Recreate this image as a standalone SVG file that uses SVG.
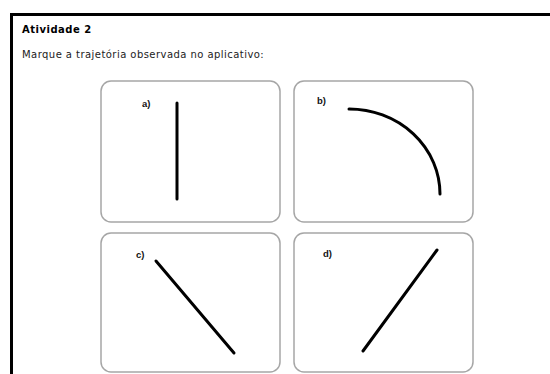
<svg xmlns="http://www.w3.org/2000/svg" width="550" height="374" viewBox="0 0 550 374">
<style>
.frame{fill:none;stroke:#000;stroke-width:3}
.card{fill:#fff;stroke:#a6a6a6;stroke-width:1.5}
.path{fill:none;stroke:#000;stroke-width:3;stroke-linecap:round}
.title{font-family:"DejaVu Sans",sans-serif;font-size:10px;font-weight:bold;letter-spacing:0.5px;fill:#000}
.txt{font-family:"DejaVu Sans",sans-serif;font-size:10px;letter-spacing:0.45px;fill:#222}
.lbl{font-family:"Liberation Sans",sans-serif;font-size:9.5px;font-weight:bold;fill:#111}
</style>
<rect width="550" height="374" fill="#fff"/>
<path class="frame" d="M11.5,374 V14.5 H550"/>
<text class="title" x="22" y="33">Atividade 2</text>
<text class="txt" x="22" y="58">Marque a trajetória observada no aplicativo:</text>
<g id="a">
<rect class="card" x="101" y="81" width="179" height="141" rx="10"/>
<text class="lbl" x="142" y="107">a)</text>
<line class="path" x1="177" y1="103" x2="177" y2="199"/>
</g>
<g id="b">
<rect class="card" x="294" y="81" width="179" height="141" rx="10"/>
<text class="lbl" x="317" y="104">b)</text>
<path class="path" d="M349,109 A91,85 0 0 1 440,194" stroke-width="3.5"/>
</g>
<g id="c">
<rect class="card" x="101" y="233" width="179" height="139" rx="10"/>
<text class="lbl" x="136" y="258">c)</text>
<line class="path" x1="156" y1="261" x2="234" y2="353"/>
</g>
<g id="d">
<rect class="card" x="294" y="233" width="179" height="139" rx="10"/>
<text class="lbl" x="323" y="257">d)</text>
<line class="path" x1="363" y1="351" x2="437" y2="250"/>
</g>
<g id="connectors"></g>
</svg>
